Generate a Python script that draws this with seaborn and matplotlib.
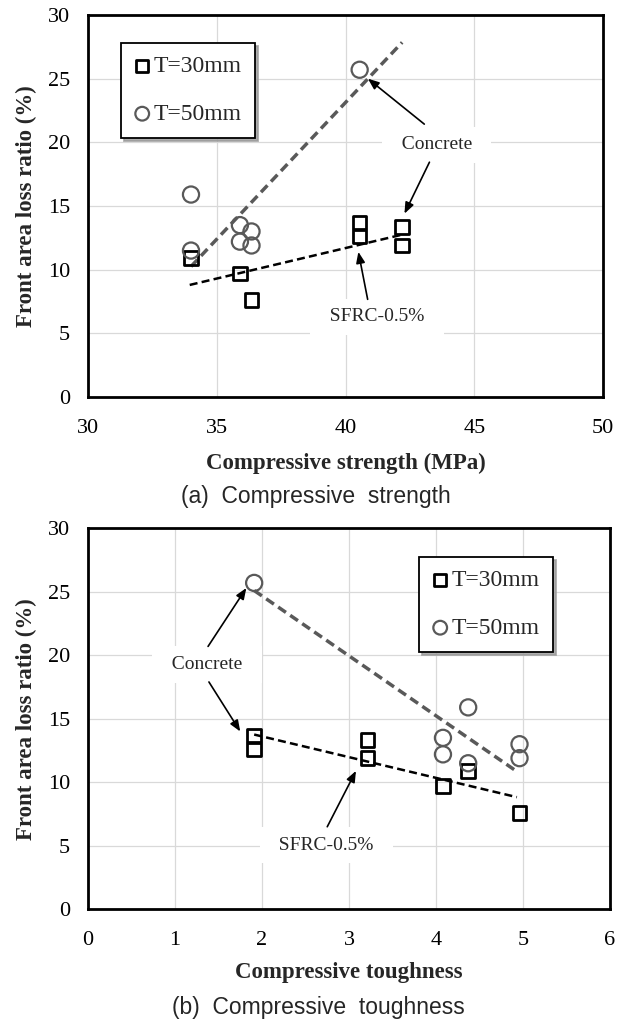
import numpy as np
import pandas as pd
import matplotlib
matplotlib.use("Agg")
import matplotlib.pyplot as plt
import seaborn as sns

# ---------------- data ----------------
strength_30 = [34.0, 35.9, 36.35, 40.55, 40.55, 42.2, 42.2]
toughness_30 = [4.37, 4.08, 4.96, 1.91, 1.91, 3.21, 3.21]
loss_30 = [10.9, 9.7, 7.6, 13.7, 12.6, 13.35, 11.9]

strength_50 = [34.0, 34.0, 35.9, 35.9, 36.35, 36.35, 40.55]
toughness_50 = [4.37, 4.37, 4.08, 4.08, 4.96, 4.96, 1.91]
loss_50 = [15.9, 11.5, 13.5, 12.2, 13.0, 11.9, 25.7]

# trend lines (end points)
trend_a30_x = [33.95, 42.2]
trend_a30_y = [8.8, 12.75]
trend_a50_x = [34.0, 42.2]
trend_a50_y = [10.25, 27.85]
trend_b30_x = [1.91, 4.93]
trend_b30_y = [13.76, 8.83]
trend_b50_x = [1.91, 4.93]
trend_b50_y = [25.1, 10.85]

series_labels = ["T=30mm", "T=50mm"]
ylabel = "Front area loss ratio (%)"
xlabel_a = "Compressive strength (MPa)"
xlabel_b = "Compressive toughness"
caption_a = "(a)  Compressive  strength"
caption_b = "(b)  Compressive  toughness"
xticks_a = [30, 35, 40, 45, 50]
xticks_b = [0, 1, 2, 3, 4, 5, 6]
yticks = [0, 5, 10, 15, 20, 25, 30]

# annotation anchors (data coords)
ann_a = {
    "concrete_text": (43.54, 19.8),
    "concrete_arrows": [((43.06, 21.43), (40.87, 25.0)), ((43.26, 18.44), (42.29, 14.4))],
    "sfrc_text": (41.22, 6.3),
    "sfrc_arrows": [((40.86, 7.67), (40.5, 11.4))],
}
ann_b = {
    "concrete_text": (1.37, 19.27),
    "concrete_arrows": [((1.38, 20.7), (1.82, 25.3)), ((1.39, 17.9), (1.75, 14.0))],
    "sfrc_text": (2.74, 5.06),
    "sfrc_arrows": [((2.75, 6.5), (3.08, 10.9))],
}

# ---------------- style ----------------
sns.set_theme(style="white")
serif = ["Liberation Serif", "DejaVu Serif"]
sans = ["Liberation Sans", "DejaVu Sans"]
plt.rcParams["font.family"] = serif

GREY = "#595959"
GRID = "#d9d9d9"

W, H = 630, 1021
fig = plt.figure(figsize=(W / 100, H / 100), dpi=100)

ax_a = fig.add_axes([88 / W, 1 - 397 / H, (603 - 88) / W, (397 - 15) / H])
ax_b = fig.add_axes([88 / W, 1 - 909.3 / H, (610 - 88) / W, (909.3 - 528.3) / H])


def draw_panel(ax, x30, x50, t30x, t30y, t50x, t50y, xlim, xticks, xlabel, ann,
               leg_anchor, xlab_y, ylab_x):
    # trend lines
    sns.lineplot(x=t50x, y=t50y, ax=ax, color=GREY, lw=2.5,
                 linestyle=(0, (2.7, 1.5)), zorder=3, legend=False)
    sns.lineplot(x=t30x, y=t30y, ax=ax, color="black", lw=1.8,
                 linestyle=(0, (3.2, 1.7)), zorder=3, legend=False)
    # points
    sns.scatterplot(x=x30, y=loss_30, ax=ax, marker="s", s=95,
                    facecolor="none", edgecolor="black", linewidth=2.0,
                    label=series_labels[0], zorder=4)
    sns.scatterplot(x=x50, y=loss_50, ax=ax, marker="o", s=135,
                    facecolor="none", edgecolor=GREY, linewidth=1.6,
                    label=series_labels[1], zorder=4)

    ax.set_xlim(*xlim)
    ax.set_ylim(0, 30)
    ax.set_xticks(xticks)
    ax.set_yticks(yticks)
    ax.grid(True, color=GRID, lw=0.9)
    ax.set_axisbelow(True)
    for sp in ax.spines.values():
        sp.set_visible(True)
        sp.set_color("black")
        sp.set_linewidth(2.0)
    ax.tick_params(axis="both", length=0, labelsize=16, labelcolor="black")
    ax.tick_params(axis="x", pad=15.5)
    ax.tick_params(axis="y", pad=13)

    ax.set_xlabel(xlabel, fontsize=16.5, fontweight="bold")
    ax.set_ylabel(ylabel, fontsize=16.5, fontweight="bold")
    ax.xaxis.set_label_coords(0.5, xlab_y)
    ax.yaxis.set_label_coords(ylab_x, 0.5)

    leg = ax.legend(loc="upper left", bbox_to_anchor=leg_anchor,
                    borderaxespad=0, frameon=True, fancybox=False,
                    shadow={"color": "#9a9a9a", "alpha": 0.8},
                    prop={"family": serif, "size": 17},
                    handlelength=0.7, handletextpad=0.15, borderpad=0.55,
                    labelspacing=1.1, markerscale=0.85)
    leg.get_frame().set_edgecolor("black")
    leg.get_frame().set_linewidth(1.3)
    leg.set_zorder(6)

    bbox = dict(boxstyle="square,pad=0.5", fc="white", ec="none")
    ax.text(*ann["concrete_text"], "  Concrete  ", ha="center", va="center",
            fontsize=14, bbox=bbox, zorder=2.5)
    ax.text(*ann["sfrc_text"], "  SFRC-0.5%  ", ha="center", va="center",
            fontsize=14, bbox=bbox, zorder=2.5)
    aprops = dict(arrowstyle="-|>,head_length=0.55,head_width=0.22",
                  color="black", lw=1.2, mutation_scale=12, shrinkA=0, shrinkB=0)
    for start, end in ann["concrete_arrows"] + ann["sfrc_arrows"]:
        ax.annotate("", xy=end, xytext=start, arrowprops=aprops, zorder=5)


draw_panel(ax_a, strength_30, strength_50, trend_a30_x, trend_a30_y,
           trend_a50_x, trend_a50_y, (30, 50), xticks_a, xlabel_a, ann_a,
           (0.064, 0.927), -0.147, -0.099)
draw_panel(ax_b, toughness_30, toughness_50, trend_b30_x, trend_b30_y,
           trend_b50_x, trend_b50_y, (0, 6), xticks_b, xlabel_b, ann_b,
           (0.634, 0.925), -0.138, -0.0977)

fig.text(316 / W, 1 - 497 / H, caption_a, ha="center", va="center",
         fontsize=16.5, family=sans)
fig.text(318 / W, 1 - 1007 / H, caption_b, ha="center", va="center",
         fontsize=16.5, family=sans)

fig.savefig("out.png", dpi=100)
